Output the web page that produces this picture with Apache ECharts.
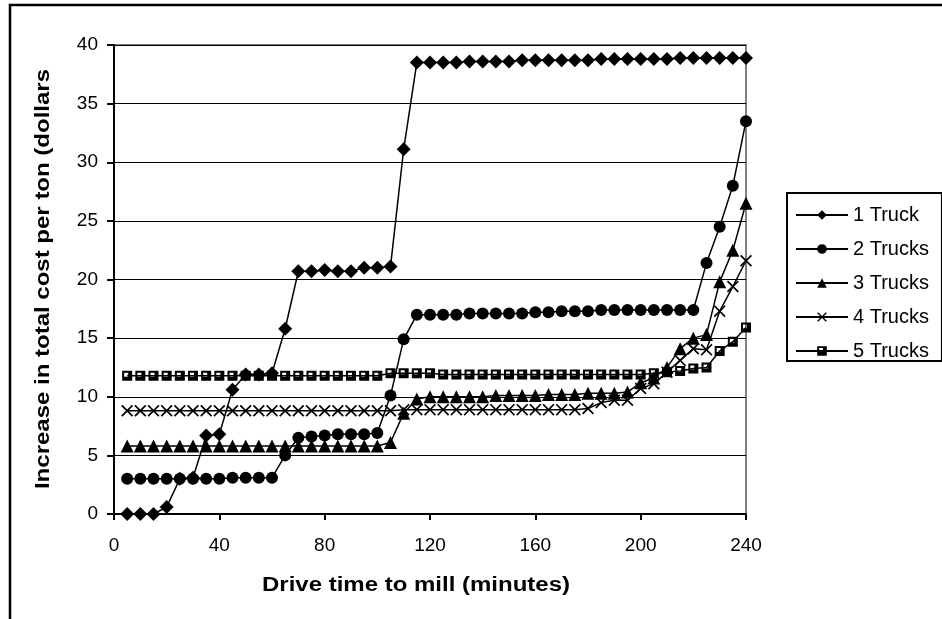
<!DOCTYPE html>
<html>
<head>
<meta charset="utf-8">
<script src="https://cdn.jsdelivr.net/npm/echarts@6/dist/echarts.min.js"></script>
<style>
  html, body { margin: 0; padding: 0; background: #fff; }
  #chart { width: 942px; height: 619px; }
</style>
</head>
<body>
<div id="chart"></div>
<script>
// drive time (minutes)
const times = [5, 10, 15, 20, 25, 30, 35, 40, 45, 50, 55, 60, 65, 70, 75, 80,
  85, 90, 95, 100, 105, 110, 115, 120, 125, 130, 135, 140, 145, 150, 155, 160,
  165, 170, 175, 180, 185, 190, 195, 200, 205, 210, 215, 220, 225, 230, 235, 240];

const seriesNames = ['1 Truck', '2 Trucks', '3 Trucks', '4 Trucks', '5 Trucks'];

const truck1 = [0, 0, 0, 0.6, 3.0, 3.1, 6.7, 6.8, 10.6, 11.9, 11.9, 12.0, 15.8, 20.7, 20.7, 20.8,
  20.7, 20.7, 21.0, 21.0, 21.1, 31.1, 38.5, 38.5, 38.5, 38.5, 38.6, 38.6, 38.6, 38.6, 38.7, 38.7,
  38.7, 38.7, 38.7, 38.7, 38.8, 38.8, 38.8, 38.8, 38.8, 38.8, 38.9, 38.9, 38.9, 38.9, 38.9, 38.9];

const truck2 = [3.0, 3.0, 3.0, 3.0, 3.0, 3.0, 3.0, 3.0, 3.1, 3.1, 3.1, 3.1, 5.0, 6.5, 6.6, 6.7,
  6.8, 6.8, 6.8, 6.9, 10.1, 14.9, 17.0, 17.0, 17.0, 17.0, 17.1, 17.1, 17.1, 17.1, 17.1, 17.2,
  17.2, 17.3, 17.3, 17.3, 17.4, 17.4, 17.4, 17.4, 17.4, 17.4, 17.4, 17.4, 21.4, 24.5, 28.0, 33.5];

const truck3 = [5.8, 5.8, 5.8, 5.8, 5.8, 5.8, 5.8, 5.8, 5.8, 5.8, 5.8, 5.8, 5.8, 5.8, 5.8, 5.8,
  5.8, 5.8, 5.8, 5.8, 6.1, 8.6, 9.8, 10.0, 10.0, 10.0, 10.0, 10.0, 10.1, 10.1, 10.1, 10.1,
  10.2, 10.2, 10.2, 10.3, 10.3, 10.3, 10.4, 11.2, 11.6, 12.5, 14.1, 15.0, 15.3, 19.8, 22.5, 26.5];

const truck4 = [8.8, 8.8, 8.8, 8.8, 8.8, 8.8, 8.8, 8.8, 8.8, 8.8, 8.8, 8.8, 8.8, 8.8, 8.8, 8.8,
  8.8, 8.8, 8.8, 8.8, 8.8, 8.9, 8.9, 8.9, 8.9, 8.9, 8.9, 8.9, 8.9, 8.9, 8.9, 8.9,
  8.9, 8.9, 8.9, 9.0, 9.5, 9.7, 9.7, 10.7, 11.1, 12.1, 13.1, 14.1, 14.0, 17.3, 19.4, 21.6];

const truck5 = [11.8, 11.8, 11.8, 11.8, 11.8, 11.8, 11.8, 11.8, 11.8, 11.8, 11.8, 11.8, 11.8, 11.8, 11.8, 11.8,
  11.8, 11.8, 11.8, 11.8, 12.0, 12.0, 12.0, 12.0, 11.9, 11.9, 11.9, 11.9, 11.9, 11.9, 11.9, 11.9,
  11.9, 11.9, 11.9, 11.9, 11.9, 11.9, 11.9, 11.9, 12.0, 12.1, 12.2, 12.4, 12.5, 13.9, 14.7, 15.9];

const xTicks = [0, 40, 80, 120, 160, 200, 240];
const yTicks = [0, 5, 10, 15, 20, 25, 30, 35, 40];

const xTitle = 'Drive time to mill (minutes)';
const yTitle = 'Increase in total cost per ton (dollars';

// x marker drawn as a thin filled cross, square marker as black with a white hole
const crossPath = 'path://M0,1L1,0L5,4L9,0L10,1L6,5L10,9L9,10L5,6L1,10L0,9L4,5Z';
const squarePath = 'path://M0,0L10,0L10,10L0,10Z M2,2L2,6L6,6L6,2Z';

const markers = [
  { symbol: 'diamond', size: 14 },
  { symbol: 'circle', size: 12 },
  { symbol: 'triangle', size: 13 },
  { symbol: crossPath, size: 12 },
  { symbol: squarePath, size: 10 }
];

const allValues = [truck1, truck2, truck3, truck4, truck5];

const chart = echarts.init(document.getElementById('chart'));

const series = allValues.map((vals, i) => ({
  name: seriesNames[i],
  type: 'line',
  data: vals.map((v, j) => [times[j], v]),
  symbol: markers[i].symbol,
  symbolSize: markers[i].size,
  showAllSymbol: true,
  lineStyle: { color: '#000', width: 1.5 },
  itemStyle: { color: '#000' },
  emphasis: { disabled: true },
  animation: false
}));

chart.setOption({
  backgroundColor: '#fff',
  textStyle: { fontFamily: 'Liberation Sans, Arial, sans-serif' },
  graphic: [
    {
      type: 'rect',
      shape: { x: 10, y: 5, width: 1000, height: 800 },
      style: { fill: 'none', stroke: '#000', lineWidth: 2.5 },
      silent: true
    },
    {
      type: 'text',
      x: 416,
      y: 585,
      scaleX: 1.2,
      style: {
        text: xTitle,
        font: 'bold 20px "Liberation Sans", Arial, sans-serif',
        fill: '#000',
        align: 'center',
        verticalAlign: 'middle'
      },
      silent: true
    },
    {
      type: 'text',
      x: 43,
      y: 279,
      rotation: Math.PI / 2,
      scaleX: 1.2,
      style: {
        text: yTitle,
        font: 'bold 20px "Liberation Sans", Arial, sans-serif',
        fill: '#000',
        align: 'center',
        verticalAlign: 'middle'
      },
      silent: true
    }
  ],
  grid: {
    left: 114,
    right: 196,
    top: 45,
    bottom: 105,
    show: true,
    borderColor: '#808080',
    borderWidth: 2
  },
  legend: {
    orient: 'vertical',
    left: 787,
    top: 193,
    padding: [12, 13, 0, 8],
    itemWidth: 52,
    itemHeight: 12,
    itemGap: 14,
    borderColor: '#000',
    borderWidth: 2,
    data: seriesNames,
    textStyle: { fontSize: 20, color: '#000' }
  },
  xAxis: {
    type: 'value',
    min: xTicks[0],
    max: xTicks[xTicks.length - 1],
    interval: 40,
    axisLine: { lineStyle: { color: '#000', width: 2 } },
    axisTick: { inside: false, length: 6, lineStyle: { color: '#000', width: 2 } },
    axisLabel: { fontSize: 19, color: '#000', margin: 22 },
    splitLine: { show: false }
  },
  yAxis: {
    type: 'value',
    min: yTicks[0],
    max: yTicks[yTicks.length - 1],
    interval: 5,
    axisLine: { show: true, lineStyle: { color: '#000', width: 2 } },
    axisTick: { show: true, inside: false, length: 7, lineStyle: { color: '#000', width: 2 } },
    axisLabel: { fontSize: 19, color: '#000', margin: 16 },
    splitLine: { show: true, lineStyle: { color: '#000', width: 1 } }
  },
  series: series
});
</script>
</body>
</html>
